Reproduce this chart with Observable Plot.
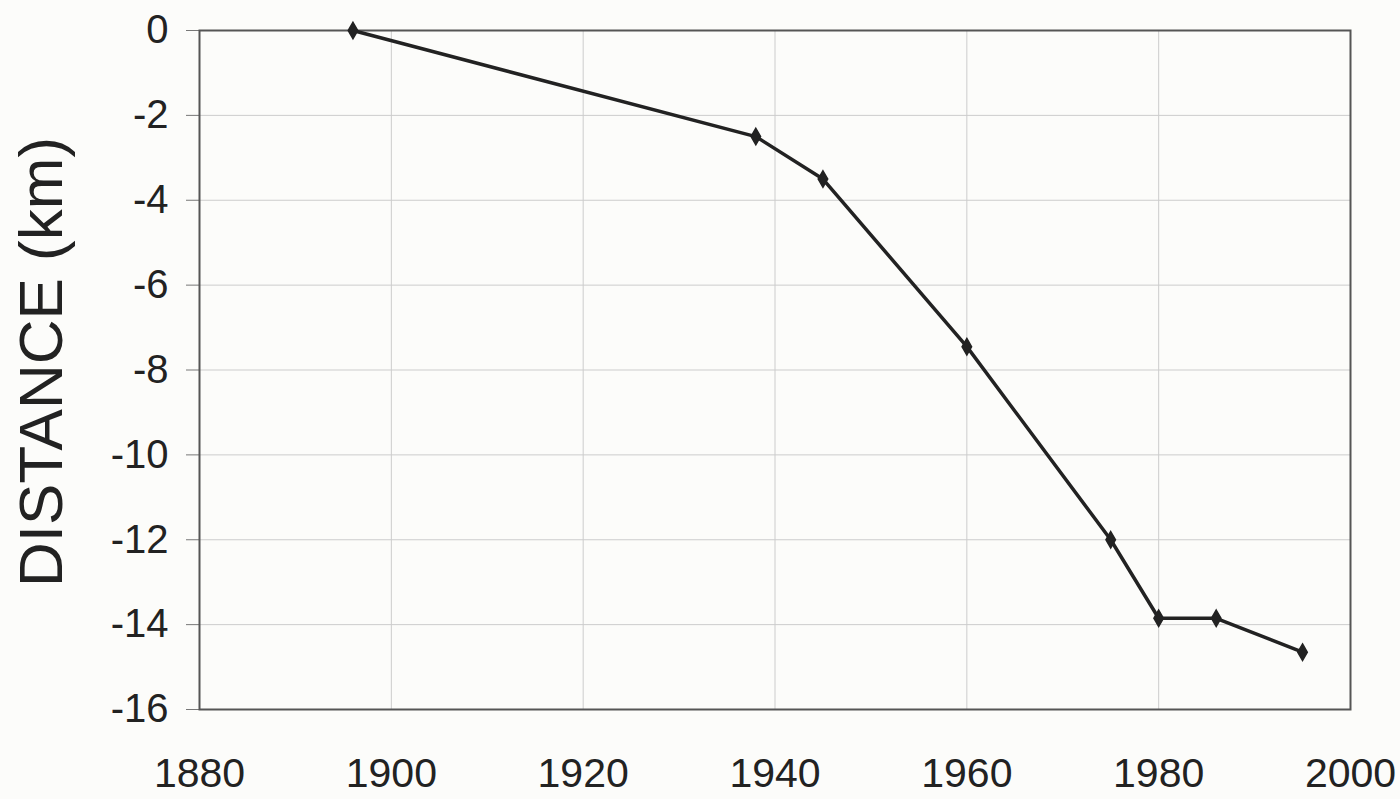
<!DOCTYPE html>
<html>
<head>
<meta charset="utf-8">
<script src="https://cdn.jsdelivr.net/npm/d3@7"></script>
<script src="https://cdn.jsdelivr.net/npm/@observablehq/plot@0.6"></script>
<style>
  html, body { margin: 0; padding: 0; background: #fcfcfa; }
  #chart svg { display: block; }
</style>
</head>
<body>
<div id="chart"></div>
<script>
const years = [1896, 1938, 1945, 1960, 1975, 1980, 1986, 1995];
const distanceKm = [0, -2.5, -3.5, -7.45, -12.0, -13.85, -13.85, -14.65];
const xTicks = [1880, 1900, 1920, 1940, 1960, 1980, 2000];
const yTicks = [0, -2, -4, -6, -8, -10, -12, -14, -16];

const data = years.map((y, i) => ({year: y, dist: distanceKm[i]}));
const fmt = d => String(d);

const chart = Plot.plot({
  width: 1400,
  height: 799,
  marginLeft: 199,
  marginRight: 50,
  marginTop: 30,
  marginBottom: 90,
  style: {fontFamily: "'Liberation Sans', Arial, sans-serif", fontSize: "40px", color: "#222", background: "#fcfcfa"},
  x: {domain: [1880, 2000], label: null},
  y: {domain: [-16, 0], label: null},
  marks: [
    Plot.gridX(xTicks.slice(1, -1), {stroke: "#ccc", strokeOpacity: 1, strokeWidth: 1}),
    Plot.gridY(yTicks.slice(1, -1), {stroke: "#ccc", strokeOpacity: 1, strokeWidth: 1}),
    Plot.axisX(xTicks, {tickSize: 0, tickPadding: 48, fontSize: 41, fill: "#222", tickFormat: fmt, label: null}),
    Plot.axisY(yTicks, {tickSize: 13, tickPadding: 18, fontSize: 40, fill: "#222", stroke: "#777", tickFormat: fmt, label: null}),
    Plot.frame({stroke: "#555", strokeWidth: 2}),
    Plot.line(data, {x: "year", y: "dist", stroke: "#222", strokeWidth: 3.5}),
    Plot.dot(data, {x: "year", y: "dist", symbol: "diamond", r: 5, fill: "#222", stroke: "#222"}),
    Plot.text(["DISTANCE (km)"], {frameAnchor: "left", textAnchor: "middle", lineAnchor: "middle", dx: -157, dy: -8, rotate: -90, fontSize: 62, fill: "#222", text: d => d})
  ]
});
document.getElementById("chart").appendChild(chart);
</script>
</body>
</html>
